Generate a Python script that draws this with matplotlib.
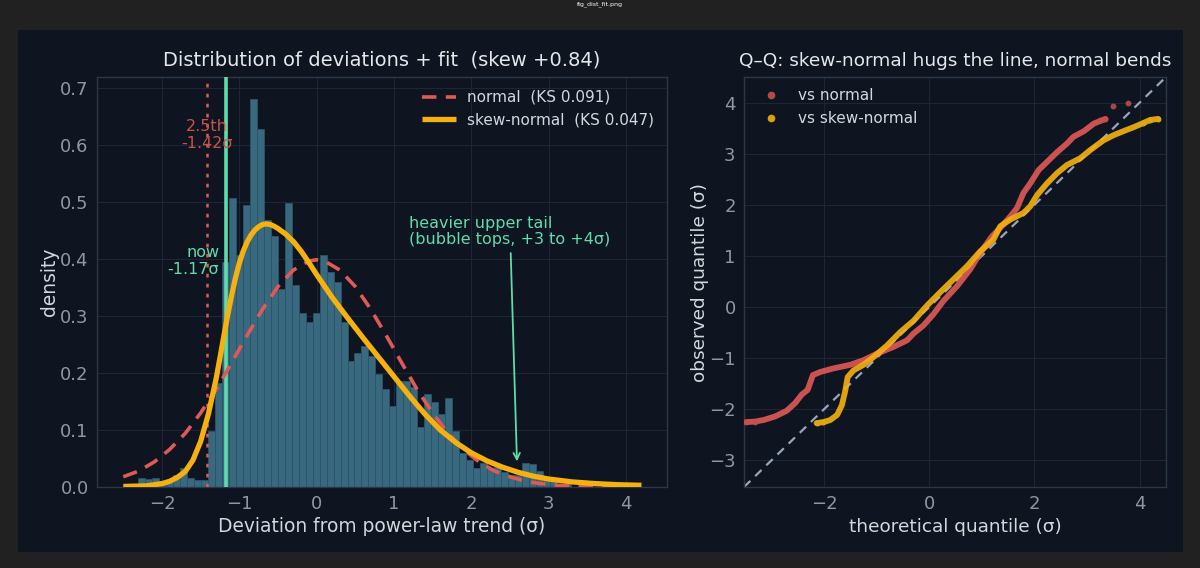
import numpy as np
import matplotlib
matplotlib.use("Agg")
import matplotlib.pyplot as plt
from matplotlib.lines import Line2D
from matplotlib.patches import Rectangle

# ---------------- data ----------------
bin_start = -2.31
bin_width = 0.0903
hist_density = [
    0.015, 0.014, 0.015, 0.010, 0.012, 0.021, 0.033, 0.015, 0.012, 0.012,
    0.099, 0.183, 0.395, 0.508, 0.407, 0.495, 0.681, 0.629, 0.469, 0.440,
    0.347, 0.499, 0.354, 0.305, 0.290, 0.305, 0.407, 0.377, 0.360, 0.290,
    0.221, 0.236, 0.247, 0.230, 0.198, 0.172, 0.143, 0.186, 0.186, 0.175,
    0.105, 0.164, 0.150, 0.129, 0.157, 0.099, 0.059, 0.047, 0.033, 0.042,
    0.033, 0.035, 0.027, 0.021, 0.021, 0.042, 0.040, 0.028, 0.017, 0.010,
    0.006, 0.005,
]

normal_x = [-2.5, -2.3, -2.1, -1.9, -1.7, -1.5, -1.3, -1.1, -0.9, -0.7, -0.5,
            -0.3, -0.1, 0.0, 0.1, 0.3, 0.5, 0.7, 0.9, 1.1, 1.3, 1.5, 1.7, 1.9,
            2.1, 2.3, 2.5, 2.7, 2.9, 3.1, 3.3, 3.5, 3.7, 3.9, 4.2]
normal_y = [0.018, 0.028, 0.044, 0.066, 0.094, 0.130, 0.171, 0.218, 0.266,
            0.312, 0.352, 0.381, 0.397, 0.399, 0.397, 0.381, 0.352, 0.312,
            0.266, 0.218, 0.171, 0.130, 0.094, 0.066, 0.044, 0.028, 0.018,
            0.010, 0.006, 0.003, 0.002, 0.001, 0.0005, 0.0002, 0.0001]

skew_x = [-2.5, -2.2, -2.0, -1.9, -1.8, -1.7, -1.6, -1.5, -1.4, -1.3, -1.25,
          -1.2, -1.15, -1.1, -1.05, -1.0, -0.95, -0.9, -0.85, -0.8, -0.75,
          -0.7, -0.65, -0.6, -0.55, -0.5, -0.4, -0.3, -0.2, -0.1, 0.0, 0.2,
          0.4, 0.6, 0.8, 1.0, 1.2, 1.4, 1.6, 1.8, 2.0, 2.2, 2.4, 2.6, 2.8,
          3.0, 3.3, 3.6, 3.9, 4.2]
skew_y = [0.001, 0.002, 0.006, 0.010, 0.017, 0.027, 0.047, 0.080, 0.128,
          0.190, 0.227, 0.265, 0.302, 0.336, 0.367, 0.393, 0.414, 0.430,
          0.442, 0.451, 0.457, 0.461, 0.462, 0.461, 0.458, 0.454, 0.444,
          0.431, 0.414, 0.394, 0.373, 0.333, 0.297, 0.262, 0.228, 0.194,
          0.160, 0.128, 0.100, 0.078, 0.060, 0.046, 0.035, 0.026, 0.019,
          0.014, 0.009, 0.006, 0.004, 0.003]

pct_2_5 = -1.42
now_val = -1.17

qq_norm_x = [-3.48, -3.31, -3.15, -2.93, -2.71, -2.55, -2.42, -2.31, -2.21,
             -2.07, -1.82, -1.50, -1.25, -0.99, -0.68, -0.42, -0.30, -0.11,
             0.08, 0.27, 0.53, 0.78, 0.97, 1.19, 1.35, 1.54, 1.67, 1.79, 1.92,
             2.08, 2.24, 2.43, 2.62, 2.74, 2.94, 3.13, 3.35]
qq_norm_y = [-2.25, -2.24, -2.21, -2.14, -2.03, -1.88, -1.71, -1.62, -1.33,
             -1.27, -1.20, -1.13, -1.04, -0.91, -0.78, -0.65, -0.52, -0.36,
             -0.14, 0.12, 0.41, 0.74, 1.06, 1.38, 1.55, 1.77, 1.94, 2.23, 2.42,
             2.68, 2.84, 3.03, 3.20, 3.33, 3.44, 3.59, 3.68]
qq_norm_tail_x = [-3.48, -3.31, 3.25, 3.35, 3.49, 3.77]
qq_norm_tail_y = [-2.25, -2.24, 3.66, 3.68, 3.94, 3.99]

qq_skew_x = [-2.14, -2.01, -1.88, -1.75, -1.66, -1.60, -1.55, -1.44, -1.25,
             -1.06, -0.80, -0.55, -0.30, -0.04, 0.21, 0.46, 0.72, 0.97, 1.22,
             1.35, 1.54, 1.79, 1.92, 2.05, 2.24, 2.43, 2.62, 2.87, 3.06, 3.31,
             3.50, 3.69, 3.89, 4.07, 4.20, 4.35]
qq_skew_y = [-2.27, -2.25, -2.21, -2.11, -1.92, -1.66, -1.37, -1.24, -1.13,
             -0.98, -0.75, -0.49, -0.27, 0.03, 0.29, 0.54, 0.80, 1.09, 1.32,
             1.58, 1.71, 1.84, 1.97, 2.19, 2.42, 2.62, 2.78, 2.91, 3.07, 3.26,
             3.36, 3.44, 3.52, 3.60, 3.66, 3.68]

# ---------------- style ----------------
BG_OUT = "#212121"
BG = "#0e1420"
SPINE = "#2c3848"
GRID = "#1c2634"
TICK = "#8e98a4"
LABEL = "#d3d8de"
TITLE = "#e4e8ec"
RED = "#e05a55"
YELLOW = "#f6b10f"
GREEN = "#5fdcaa"
BAR = "#39697e"

fig = plt.figure(figsize=(12, 5.68), dpi=100, facecolor=BG_OUT)
fig.patches.append(Rectangle((18 / 1200, 1 - 552 / 568), 1165 / 1200, 522 / 568,
                             transform=fig.transFigure, facecolor=BG,
                             edgecolor="none", zorder=-10))
fig.text(0.5, 0.998, "fig_dist_fit.png", color="white", fontsize=4.5,
         ha="center", va="top")

ax1 = fig.add_axes([97 / 1200, 1 - 487 / 568, 570 / 1200, 410 / 568])
ax2 = fig.add_axes([744 / 1200, 1 - 487 / 568, 422 / 1200, 410 / 568])

for ax in (ax1, ax2):
    ax.set_facecolor(BG)
    for s in ax.spines.values():
        s.set_color(SPINE)
        s.set_linewidth(1.0)
    ax.tick_params(colors=TICK, labelsize=13, length=0, pad=6)
    ax.grid(True, color=GRID, linewidth=0.8)
    ax.set_axisbelow(True)

# ---------------- left: histogram + fits ----------------
edges = bin_start + bin_width * np.arange(len(hist_density))
ax1.bar(edges, hist_density, width=bin_width, align="edge", color=BAR,
        edgecolor="#2b5468", linewidth=0.6, zorder=2)
ax1.plot(normal_x, normal_y, color=RED, lw=2.6, dashes=(4, 2.6), zorder=4,
         label="normal  (KS 0.091)")
ax1.plot(skew_x, skew_y, color=YELLOW, lw=3.8, zorder=5,
         label="skew-normal  (KS 0.047)", solid_capstyle="butt",
         solid_joinstyle="round")
ax1.axvline(pct_2_5, color=RED, lw=1.8, linestyle=(0, (1.5, 2.5)), zorder=3)
ax1.axvline(now_val, color=GREEN, lw=2.6, zorder=3)

ax1.text(pct_2_5, 0.618, "2.5th\n-1.42σ", color="#c9514b", fontsize=11.5,
         ha="center", va="center", linespacing=1.1, zorder=6)
ax1.text(now_val - 0.09, 0.397, "now\n-1.17σ", color=GREEN, fontsize=11.5,
         ha="right", va="center", linespacing=1.1, zorder=6)
ax1.annotate("heavier upper tail\n(bubble tops, +3 to +4σ)", xy=(2.59, 0.045),
             xytext=(1.2, 0.448), color=GREEN, fontsize=11.5, ha="left",
             va="center", linespacing=1.1,
             arrowprops=dict(arrowstyle="->", color=GREEN, lw=1.3,
                             shrinkA=2, shrinkB=0))

ax1.set_xlim(-2.84, 4.53)
ax1.set_ylim(0, 0.72)
ax1.set_yticks([0.0, 0.1, 0.2, 0.3, 0.4, 0.5, 0.6, 0.7])
ax1.set_xticks([-2, -1, 0, 1, 2, 3, 4])
ax1.set_xlabel("Deviation from power-law trend (σ)", color=LABEL,
               fontsize=13.4, labelpad=3)
ax1.set_ylabel("density", color=LABEL, fontsize=13.4, labelpad=1)
ax1.set_title("Distribution of deviations + fit  (skew +0.84)", color=TITLE,
              fontsize=14, pad=8)
ax1.legend(loc="upper right", frameon=False, fontsize=11, handlelength=2.2,
           labelcolor=LABEL, borderaxespad=0.45, labelspacing=0.5,
           handletextpad=0.75)

# ---------------- right: Q-Q ----------------
lim = (-3.52, 4.5)
ax2.plot(lim, lim, color="#9aa6b8", lw=1.6, dashes=(4, 3), zorder=2)
ax2.plot(qq_norm_x, qq_norm_y, color=RED, lw=4.2, alpha=0.9, zorder=3,
         solid_capstyle="round", solid_joinstyle="round")
ax2.scatter(qq_norm_tail_x, qq_norm_tail_y, s=18, color="#c2504c", alpha=0.85,
            zorder=3, linewidths=0)
ax2.plot(qq_skew_x, qq_skew_y, color=YELLOW, lw=4.2, alpha=0.9, zorder=4,
         solid_capstyle="round", solid_joinstyle="round")
ax2.scatter(qq_skew_x[-3:] + qq_skew_x[:2], qq_skew_y[-3:] + qq_skew_y[:2],
            s=18, color="#e0a512", zorder=4, linewidths=0)
ax2.set_xlim(*lim)
ax2.set_ylim(*lim)
ax2.set_xticks([-2, 0, 2, 4])
ax2.set_yticks([-3, -2, -1, 0, 1, 2, 3, 4])
ax2.set_xlabel("theoretical quantile (σ)", color=LABEL, fontsize=13.3,
               labelpad=3)
ax2.set_ylabel("observed quantile (σ)", color=LABEL, fontsize=13.3, labelpad=0)
ax2.set_title("Q–Q: skew-normal hugs the line, normal bends", color=TITLE,
              fontsize=13.3, pad=8)
handles = [Line2D([], [], ls="", marker="o", ms=4.5, color="#b24a48"),
           Line2D([], [], ls="", marker="o", ms=4.5, color="#d9a010")]
ax2.legend(handles, ["vs normal", "vs skew-normal"], loc="upper left",
           frameon=False, fontsize=11, labelcolor=LABEL, handlelength=2.0,
           labelspacing=0.5, borderaxespad=0.35, handletextpad=0.8)

fig.savefig("out.png", dpi=100, facecolor=BG_OUT)
